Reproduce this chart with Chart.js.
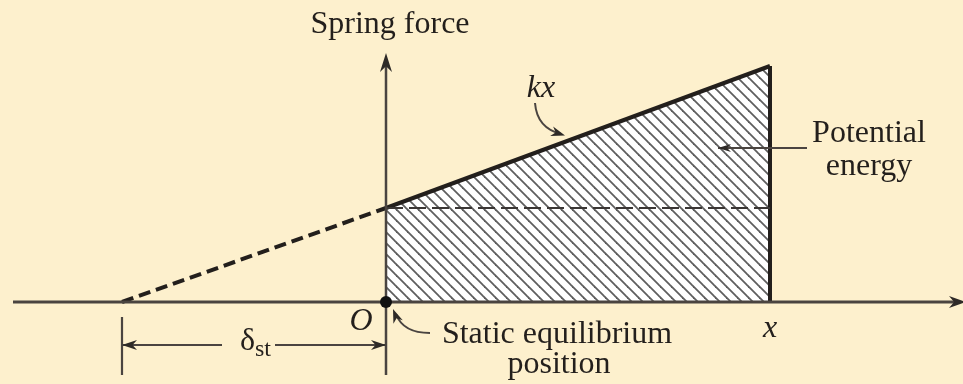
<!DOCTYPE html>
<html>
<head>
<meta charset="utf-8">
<script src="https://cdn.jsdelivr.net/npm/chart.js@4.4.1/dist/chart.umd.min.js"></script>
<style>
  html, body { margin: 0; padding: 0; background: #fdf0cd; }
  canvas { display: block; }
</style>
</head>
<body>
<canvas id="springChart" width="963" height="384"></canvas>
<script>
(function () {
  'use strict';

  // spring force line: start of deflection (-δst), origin O, end at x
  var lineX = [-2.64, 0, 3.84];
  var lineF = [0, 0.94, 2.36];

  // axes extents
  var horizAxisX = [-3.73, 5.80];
  var vertAxisY = [-0.73, 2.49];

  // δst dimension line
  var dimY = -0.43;
  var dimGap = [-1.64, -1.11];
  var extensionY = [-0.15, -0.73];

  // text labels (data coords of anchor)
  var labelText = ['Spring force', 'kx', 'Potential', 'energy', 'O', 'Static equilibrium', 'position', 'x'];
  var labelX = [0.04, 1.55, 4.83, 4.83, -0.25, 1.71, 1.73, 3.84];
  var labelY = [2.69, 2.05, 1.60, 1.27, -0.28, -0.41, -0.71, -0.35];
  var labelItalic = [false, true, false, false, true, false, false, true];

  var BG = '#fdf0cd';
  var INK = '#231f1c';
  var AXIS = '#4a4440';

  function hatchPattern() {
    var s = 11;
    var c = document.createElement('canvas');
    c.width = s; c.height = s;
    var g = c.getContext('2d');
    g.fillStyle = '#ffffff';
    g.fillRect(0, 0, s, s);
    g.strokeStyle = '#5e5e5e';
    g.lineWidth = 1.8;
    [-s, 0, s].forEach(function (k) {
      g.beginPath();
      g.moveTo(-1, -1 + k);
      g.lineTo(s + 1, s + 1 + k);
      g.stroke();
    });
    return g.createPattern(c, 'repeat');
  }

  function arrowHead(ctx, tipX, tipY, angle, len, half) {
    ctx.save();
    ctx.translate(tipX, tipY);
    ctx.rotate(angle);
    ctx.beginPath();
    ctx.moveTo(0, 0);
    ctx.lineTo(-len, -half);
    ctx.lineTo(-len * 0.7, 0);
    ctx.lineTo(-len, half);
    ctx.closePath();
    ctx.fill();
    ctx.restore();
  }

  var overlay = {
    id: 'overlay',
    beforeDraw: function (chart) {
      var ctx = chart.ctx;
      ctx.save();
      ctx.fillStyle = BG;
      ctx.fillRect(0, 0, chart.width, chart.height);
      ctx.restore();
    },
    afterDatasetsDraw: function (chart) {
      var ctx = chart.ctx;
      var xs = chart.scales.x, ys = chart.scales.y;
      function px(v) { return xs.getPixelForValue(v); }
      function py(v) { return ys.getPixelForValue(v); }

      ctx.save();
      ctx.fillStyle = '#2e2a27';
      // axis arrowheads
      arrowHead(ctx, px(horizAxisX[1]), py(0), 0, 17, 6);
      arrowHead(ctx, px(0), py(vertAxisY[1]), -Math.PI / 2, 19, 6);

      // δst dimension
      ctx.strokeStyle = AXIS;
      ctx.lineWidth = 2.2;
      ctx.beginPath();
      ctx.moveTo(px(lineX[0]), py(extensionY[0]));
      ctx.lineTo(px(lineX[0]), py(extensionY[1]));
      ctx.moveTo(px(lineX[0]), py(dimY));
      ctx.lineTo(px(dimGap[0]), py(dimY));
      ctx.moveTo(px(dimGap[1]), py(dimY));
      ctx.lineTo(px(0), py(dimY));
      ctx.stroke();
      arrowHead(ctx, px(lineX[0]), py(dimY), Math.PI, 15, 5);
      arrowHead(ctx, px(0), py(dimY), 0, 15, 5);

      // potential energy leader
      ctx.lineWidth = 1.8;
      ctx.beginPath();
      ctx.moveTo(px(4.21), py(1.54));
      ctx.lineTo(px(3.32), py(1.54));
      ctx.stroke();
      arrowHead(ctx, px(3.32), py(1.54), Math.PI, 13, 4);

      // kx curved leader
      ctx.lineWidth = 2;
      ctx.beginPath();
      ctx.moveTo(px(1.49), py(1.99));
      ctx.quadraticCurveTo(px(1.51), py(1.74), px(1.75), py(1.68));
      ctx.stroke();
      arrowHead(ctx, px(1.79), py(1.665), Math.atan2(py(1.665) - py(1.74), px(1.79) - px(1.55)), 14, 5);

      // static equilibrium curved leader
      ctx.beginPath();
      ctx.moveTo(px(0.44), py(-0.31));
      ctx.quadraticCurveTo(px(0.17), py(-0.31), px(0.1), py(-0.12));
      ctx.stroke();
      arrowHead(ctx, px(0.07), py(-0.07), Math.atan2(py(-0.07) - py(-0.25), px(0.07) - px(0.14)), 14, 5);

      // labels
      ctx.fillStyle = INK;
      ctx.textAlign = 'center';
      ctx.textBaseline = 'alphabetic';
      labelText.forEach(function (t, i) {
        ctx.font = (labelItalic[i] ? 'italic ' : '') + '32px "Liberation Serif", "DejaVu Serif", serif';
        ctx.fillText(t, px(labelX[i]), py(labelY[i]));
      });

      // δst with subscript
      var dx = px(-1.40), dy = py(-0.48);
      ctx.font = '32px "Liberation Serif", "DejaVu Serif", serif';
      ctx.textAlign = 'right';
      ctx.fillText('δ', dx + 9, dy);
      ctx.font = '24px "Liberation Serif", "DejaVu Serif", serif';
      ctx.textAlign = 'left';
      ctx.fillText('st', dx + 9, dy + 6);
      ctx.restore();
    }
  };

  function seg(xa, ya, xb, yb) { return [{ x: xa, y: ya }, { x: xb, y: yb }]; }

  function lineSet(data, width, color, dash, order) {
    return {
      data: data, showLine: true, pointRadius: 0, borderColor: color,
      borderWidth: width, borderDash: dash || [], fill: false, order: order || 1,
      borderCapStyle: 'butt', clip: false
    };
  }

  var ctx = document.getElementById('springChart');
  new Chart(ctx, {
    type: 'scatter',
    data: {
      datasets: [
        // potential energy hatch
        {
          data: seg(lineX[1], lineF[1], lineX[2], lineF[2]),
          showLine: true, pointRadius: 0, borderWidth: 0, borderColor: 'rgba(0,0,0,0)',
          backgroundColor: hatchPattern(), fill: 'origin', order: 10, clip: false
        },
        lineSet(seg(horizAxisX[0], 0, horizAxisX[1] - 0.1, 0), 3, AXIS),
        lineSet(seg(0, vertAxisY[0], 0, vertAxisY[1] - 0.1), 2.5, AXIS),
        lineSet(seg(lineX[1], lineF[1], lineX[2], lineF[1]), 2, '#3a3634', [17, 6]),
        lineSet(seg(lineX[0], lineF[0], lineX[1], lineF[1]), 4, INK, [12, 6]),
        lineSet(seg(lineX[1], lineF[1], lineX[2], lineF[2]), 4, INK),
        lineSet(seg(lineX[2], 0, lineX[2], lineF[2]), 4, INK),
        {
          data: [{ x: 0, y: 0 }], pointRadius: 6, pointBackgroundColor: '#111',
          pointBorderWidth: 0, showLine: false, order: 0, clip: false
        }
      ]
    },
    options: {
      responsive: false,
      animation: false,
      events: [],
      layout: { padding: 0, autoPadding: false },
      plugins: { legend: { display: false }, tooltip: { enabled: false } },
      scales: {
        x: { type: 'linear', min: -3.86, max: 5.77, display: false },
        y: { type: 'linear', min: -0.82, max: 3.02, display: false }
      }
    },
    plugins: [overlay]
  });
})();
</script>
</body>
</html>
